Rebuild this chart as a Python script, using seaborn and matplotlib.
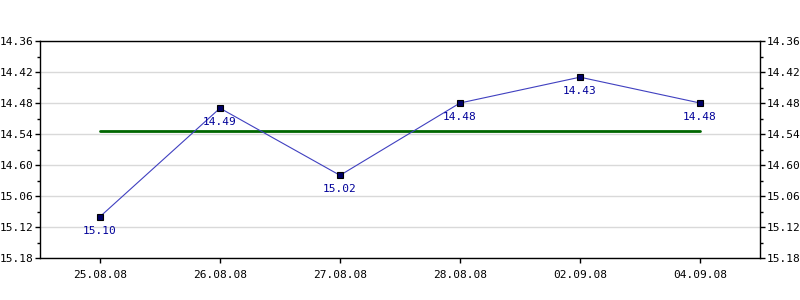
import matplotlib
matplotlib.use("Agg")
import matplotlib.pyplot as plt
import seaborn as sns
import pandas as pd
from matplotlib.ticker import FixedLocator, MultipleLocator

dates = ["25.08.08", "26.08.08", "27.08.08", "28.08.08", "02.09.08", "04.09.08"]
values = [15.10, 14.49, 15.02, 14.48, 14.43, 14.48]
value_labels = ["15.10", "14.49", "15.02", "14.48", "14.43", "14.48"]
y_tick_labels = ["14.36", "14.42", "14.48", "14.54", "14.60", "15.06", "15.12", "15.18"]


def to_units(s):
    # "MM.SS" style value -> continuous units (mm*60 + ss)
    a, b = s.split(".")
    return int(a) * 60 + int(b)


y_units = [to_units(s) for s in value_labels]
tick_units = [to_units(s) for s in y_tick_labels]
mean_units = sum(y_units) / len(y_units)

df = pd.DataFrame({"x": list(range(len(dates))), "y": y_units})

sns.set_style("white")
plt.rcParams["font.family"] = ["DejaVu Sans Mono", "DejaVu Sans"]

fig = plt.figure(figsize=(8, 3), dpi=100)
ax = fig.add_axes([0.05, 0.14, 0.90, 0.7233])

# grid
for t in tick_units:
    ax.axhline(t, color="#d9d9d9", lw=1, zorder=0)

# average line
ax.plot([df["x"].iloc[0], df["x"].iloc[-1]], [mean_units, mean_units],
        color="#006600", lw=2, zorder=2)

sns.lineplot(data=df, x="x", y="y", ax=ax, color="#4040c0", lw=0.8,
             marker="s", markersize=4.5, markerfacecolor="#000066",
             markeredgecolor="#000000", markeredgewidth=0.8, zorder=3)

for xi, yi, lab in zip(df["x"], df["y"], value_labels):
    ax.annotate(lab, (xi, yi), xytext=(0, -10), textcoords="offset points",
                ha="center", va="center", color="#000099", fontsize=8, zorder=4)

ax.set_xlim(-0.5, len(dates) - 0.5)
ax.set_ylim(tick_units[-1], tick_units[0])
ax.xaxis.set_major_locator(FixedLocator(list(range(len(dates)))))
ax.set_xticklabels(dates)
ax.yaxis.set_major_locator(FixedLocator(tick_units))
ax.set_yticklabels(y_tick_labels)
ax.yaxis.set_minor_locator(MultipleLocator(3))
ax.set_xlabel("")
ax.set_ylabel("")

for sp in ax.spines.values():
    sp.set_visible(True)
    sp.set_color("black")
    sp.set_linewidth(1)

ax.tick_params(axis="y", which="major", left=True, right=True, labelleft=True,
               labelright=True, length=3.6, width=1, color="black",
               labelcolor="black", labelsize=8, pad=1)
ax.tick_params(axis="y", which="minor", left=True, right=True, length=2.2,
               width=1, color="black")
ax.tick_params(axis="x", which="major", bottom=True, length=3.6, width=1,
               color="black", labelcolor="black", labelsize=8, pad=5)

fig.savefig("out.png", dpi=100)
